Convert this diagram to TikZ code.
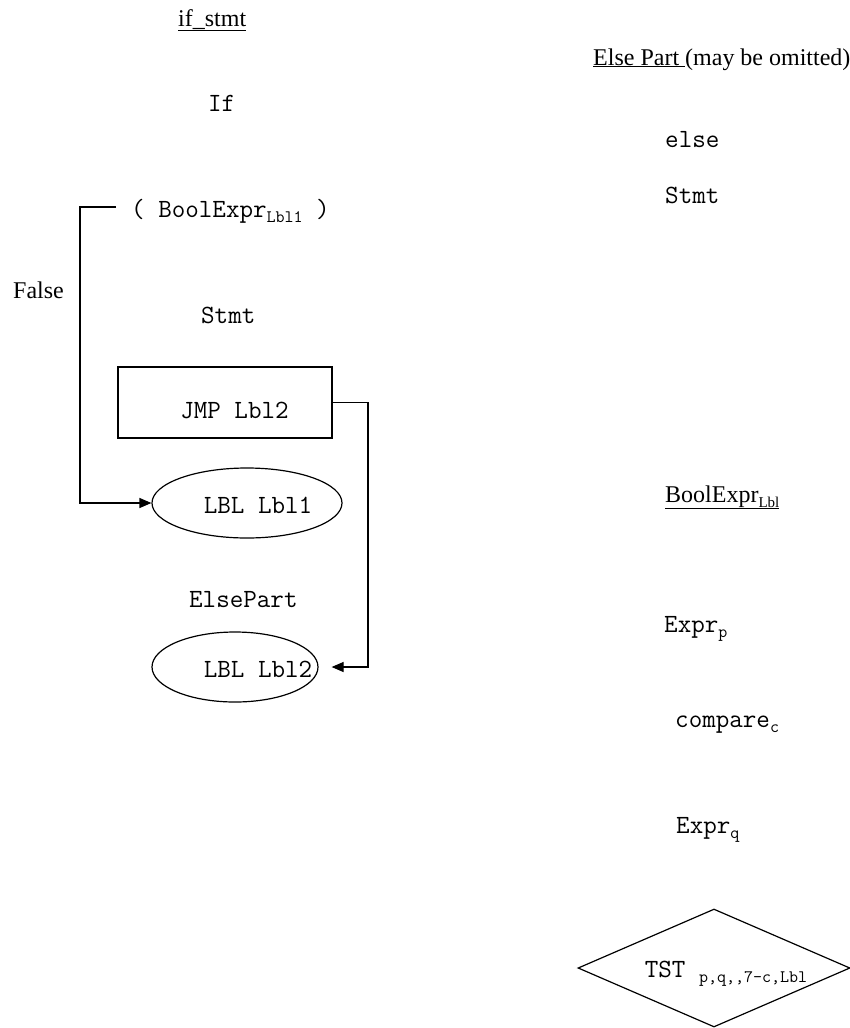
\documentclass[tikz,border=0pt]{standalone}
\usepackage{fontspec}
\setmainfont{Liberation Serif}
\usepackage{tikz}
\usetikzlibrary{arrows.meta,shapes.geometric}
\newcommand{\codefont}{\ttfamily\fontsize{26.3}{30}\selectfont}
\newcommand{\prosefont}{\rmfamily\fontsize{24}{28}\selectfont}
\newcommand{\lowsub}[2][17.5]{\raisebox{-5pt}{\fontsize{#1}{20}\selectfont #2}}
\newcommand{\nudge}[2]{\makebox[0pt]{\hspace*{#1}#2}}
\tikzset{
  code/.style={font=\codefont,inner sep=0pt,anchor=base west},
  prose/.style={font=\prosefont,inner sep=0pt,anchor=base west},
  jmpbox/.style={rectangle,draw,line width=1.2pt,minimum width=214pt,minimum height=71pt,inner sep=0pt,text height=31pt,text depth=0pt,font=\codefont},
  lblnode/.style={ellipse,draw,line width=1.2pt,minimum height=70pt,inner sep=0pt,text height=20pt,text depth=0pt,font=\codefont},
  tstnode/.style={diamond,draw,line width=1.2pt,minimum width=272pt,minimum height=118pt,inner sep=0pt,text height=18pt,text depth=0pt,font=\codefont},
  edge/.style={-{Triangle[length=12pt,width=10pt]},line width=1.2pt}
}

\begin{document}
\begin{tikzpicture}[x=1pt,y=-1pt]
\useasboundingbox (0,0) rectangle (850,1028);
% if statement
\node[prose] (ifhead) at (178,26) {\underline{if\_stmt}};
\node[code] (kwif) at (208,111) {If};
\node[code] (cond) at (131,217) {( BoolExpr\lowsub{Lbl1} )};
\node[prose] (false) at (13,298) {False};
\node[code] (body) at (201,323) {Stmt};
\node[jmpbox] (jmp) at (225,402.5) {\nudge{19pt}{JMP Lbl2}};
\node[lblnode,minimum width=190pt] (lbl1) at (247,503) {\nudge{22pt}{LBL Lbl1}};
\node[code] (elsepart) at (189,607) {ElsePart};
\node[lblnode,minimum width=166pt] (lbl2) at (235,667) {\nudge{46pt}{LBL Lbl2}};
% else part
\node[prose] (elsehead) at (593,65) {\underline{Else Part\ }(may be omitted)};
\node[code] (kwelse) at (665,147) {else};
\node[code] (elsestmt) at (665,203) {Stmt};
% boolean expression
\node[prose] (boolhead) at (665,502) {\underline{BoolExpr}\underline{\lowsub[15]{Lbl}}};
\node[code] (exprp) at (664,632) {Expr\lowsub{p}};
\node[code] (cmp) at (675,727) {compare\lowsub{c}};
\node[code] (exprq) at (676,833) {Expr\lowsub{q}};
\node[tstnode] (tst) at (714,968) {\nudge{24pt}{TST \lowsub{p,q,,7-c,Lbl}}};
% jumps
\coordinate (brk) at (116,207);
\coordinate (brkcorner) at (80,207);
\coordinate (jmpx) at (368,0);
\draw[edge] (brk) -- (brkcorner) |- (lbl1.west);
\draw[edge,shorten >=13pt] (jmp.east) -- (jmp.east -| jmpx) |- (lbl2.east);
\end{tikzpicture}
\end{document}
